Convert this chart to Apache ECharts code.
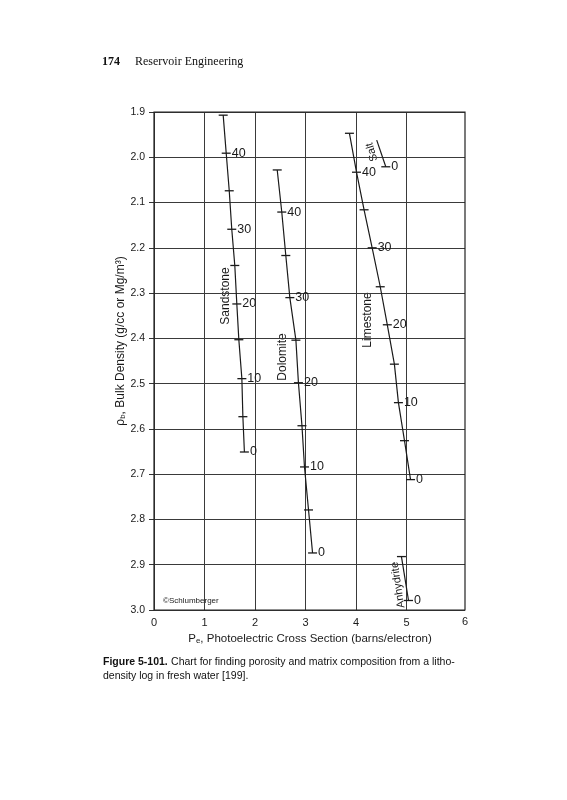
<!DOCTYPE html>
<html>
<head>
<meta charset="utf-8">
<script src="https://cdn.jsdelivr.net/npm/echarts@6/dist/echarts.min.js"></script>
<style>
html,body{margin:0;padding:0;background:#fff;}
#c{width:567px;height:800px;}
</style>
</head>
<body>
<div id="c"></div>
<script>
// ---- Data ----
var xTicks = [0, 1, 2, 3, 4, 5, 6];
var yTicks = [1.9, 2.0, 2.1, 2.2, 2.3, 2.4, 2.5, 2.6, 2.7, 2.8, 2.9, 3.0];

var sandstonePhi = [45, 40, 35, 30, 25, 20, 15, 10, 5, 0];
var sandstonePe  = [1.37, 1.43, 1.49, 1.54, 1.60, 1.64, 1.68, 1.74, 1.76, 1.79];
var sandstoneRho = [1.907, 1.991, 2.074, 2.159, 2.239, 2.324, 2.403, 2.489, 2.573, 2.651];

var dolomitePhi = [45, 40, 35, 30, 25, 20, 15, 10, 5, 0];
var dolomitePe  = [2.44, 2.53, 2.61, 2.69, 2.81, 2.86, 2.93, 2.98, 3.06, 3.14];
var dolomiteRho = [2.028, 2.121, 2.217, 2.310, 2.404, 2.498, 2.593, 2.684, 2.779, 2.874];

var limestonePhi = [45, 40, 35, 30, 25, 20, 15, 10, 5, 0];
var limestonePe  = [3.87, 4.01, 4.16, 4.32, 4.48, 4.62, 4.76, 4.84, 4.96, 5.08];
var limestoneRho = [1.947, 2.033, 2.116, 2.200, 2.286, 2.370, 2.457, 2.542, 2.626, 2.712];

var saltPhi = [null, 0];
var saltPe  = [4.41, 4.59];
var saltRho = [1.962, 2.021];

var anhydritePhi = [5, 0];
var anhydritePe  = [4.90, 5.04];
var anhydriteRho = [2.882, 2.979];

// ---- Build ----
var FONT = "'Liberation Sans', Arial, sans-serif";
var INK = '#1a1a1a';
var GRIDC = '#3a3a3a';

function mkData(phi, pe, rho) {
  return phi.map(function (p, i) {
    return {
      value: [pe[i], rho[i]],
      symbol: p === null ? 'none' : 'rect',
      label: {
        show: p !== null && p % 10 === 0,
        formatter: String(p)
      }
    };
  });
}
function mkSeries(name, phi, pe, rho) {
  return {
    name: name,
    type: 'line',
    xAxisIndex: 0, yAxisIndex: 0,
    data: mkData(phi, pe, rho),
    symbol: 'rect',
    symbolSize: [9, 1.3],
    showAllSymbol: true,
    lineStyle: { color: INK, width: 1.2 },
    itemStyle: { color: INK },
    label: {
      position: 'right', distance: 1,
      color: INK, fontSize: 12.5, fontFamily: FONT
    },
    emphasis: { disabled: true },
    silent: true,
    animation: false,
    z: 5
  };
}

var chart = echarts.init(document.getElementById('c'), null, { renderer: 'canvas' });
var option = {
  backgroundColor: '#fff',
  animation: false,
  grid: [
    { left: 154, right: 110, top: 112, bottom: 190, show: false },
    { left: 154, right: 102, top: 112, bottom: 190, show: false }
  ],
  xAxis: [{
    gridIndex: 0,
    type: 'value', min: xTicks[0], max: xTicks[xTicks.length - 1], interval: 1,
    axisLine: { show: false },
    axisTick: { show: false },
    splitLine: { show: true, showMinLine: true, showMaxLine: false, lineStyle: { color: GRIDC, width: 1 } },
    axisLabel: {
      color: INK, fontSize: 11, fontFamily: FONT, margin: 7,
      formatter: function (v) { return v === 6 ? '' : String(v); }
    }
  }, {
    gridIndex: 1, type: 'value', min: 0, max: 1, show: false
  }],
  yAxis: [{
    gridIndex: 0,
    type: 'value', inverse: true, min: yTicks[0], max: yTicks[yTicks.length - 1], interval: 0.1,
    axisLine: { show: false },
    axisTick: { show: true, length: 5, lineStyle: { color: '#333' } },
    splitLine: { show: false },
    axisLabel: {
      color: INK, fontSize: 10.5, fontFamily: FONT, margin: 9,
      formatter: function (v) { return v.toFixed(1); }
    }
  }, {
    gridIndex: 1,
    type: 'value', inverse: true, min: yTicks[0], max: yTicks[yTicks.length - 1], interval: 0.1,
    axisLine: { show: false }, axisTick: { show: false }, axisLabel: { show: false },
    splitLine: { show: true, lineStyle: { color: GRIDC, width: 1 } }
  }],
  series: [
    mkSeries('Sandstone', sandstonePhi, sandstonePe, sandstoneRho),
    mkSeries('Dolomite', dolomitePhi, dolomitePe, dolomiteRho),
    mkSeries('Limestone', limestonePhi, limestonePe, limestoneRho),
    mkSeries('Salt', saltPhi, saltPe, saltRho),
    mkSeries('Anhydrite', anhydritePhi, anhydritePe, anhydriteRho)
  ],
  graphic: [
    // frame
    { type: 'rect', shape: { x: 154, y: 112, width: 311, height: 498 },
      style: { fill: null, stroke: '#222', lineWidth: 1.2 }, z: 10, silent: true },
    { type: 'text', x: 465, y: 616, style: { text: '6', fill: INK, font: '11px ' + FONT, textAlign: 'center', textVerticalAlign: 'top' } },
    // header
    { type: 'text', x: 102, y: 56, style: { text: '174', fill: '#111', font: 'bold 12px "Liberation Serif", "Times New Roman", serif' } },
    { type: 'text', x: 135, y: 56, style: { text: 'Reservoir Engineering', fill: '#111', font: '12px "Liberation Serif", "Times New Roman", serif' } },
    // lithology names
    { type: 'text', x: 226, y: 296, rotation: Math.PI / 2,
      style: { text: 'Sandstone', fill: INK, font: '12px ' + FONT, textAlign: 'center', textVerticalAlign: 'middle' } },
    { type: 'text', x: 283, y: 357, rotation: Math.PI / 2,
      style: { text: 'Dolomite', fill: INK, font: '12px ' + FONT, textAlign: 'center', textVerticalAlign: 'middle' } },
    { type: 'text', x: 368, y: 320, rotation: Math.PI / 2,
      style: { text: 'Limestone', fill: INK, font: '12px ' + FONT, textAlign: 'center', textVerticalAlign: 'middle' } },
    { type: 'text', x: 372, y: 152, rotation: 106.5 * Math.PI / 180,
      style: { text: 'Salt', fill: INK, font: '11px ' + FONT, textAlign: 'center', textVerticalAlign: 'middle' } },
    { type: 'text', x: 398, y: 585, rotation: 98.5 * Math.PI / 180,
      style: { text: 'Anhydrite', fill: INK, font: '11px ' + FONT, textAlign: 'center', textVerticalAlign: 'middle' } },
    // copyright
    { type: 'text', x: 163, y: 601, style: { text: '©Schlumberger', fill: INK, font: '8px ' + FONT, textVerticalAlign: 'middle' } },
    // y axis name
    { type: 'text', x: 120, y: 341, rotation: Math.PI / 2,
      style: {
        text: '{a|ρ}{s|b}{a|, Bulk Density (g/cc or Mg/m³)}',
        textAlign: 'center', textVerticalAlign: 'middle',
        rich: {
          a: { fontSize: 12, fontFamily: FONT, fill: INK, verticalAlign: 'bottom', lineHeight: 14 },
          s: { fontSize: 8, fontFamily: FONT, fill: INK, verticalAlign: 'bottom', lineHeight: 11 }
        }
      } },
    // x axis name
    { type: 'text', x: 310, y: 638,
      style: {
        text: '{a|P}{s|e}{a|, Photoelectric Cross Section (barns/electron)}',
        textAlign: 'center', textVerticalAlign: 'middle',
        rich: {
          a: { fontSize: 11.5, fontFamily: FONT, fill: INK, verticalAlign: 'bottom', lineHeight: 14 },
          s: { fontSize: 8, fontFamily: FONT, fill: INK, verticalAlign: 'bottom', lineHeight: 11 }
        }
      } },
    // caption
    { type: 'text', x: 103, y: 662,
      style: {
        text: '{b|Figure 5-101.} {n|Chart for finding porosity and matrix composition from a litho-}',
        textVerticalAlign: 'middle',
        rich: {
          b: { fontSize: 10.5, fontFamily: FONT, fontWeight: 'bold', fill: '#111' },
          n: { fontSize: 10.5, fontFamily: FONT, fill: '#111' }
        }
      } },
    { type: 'text', x: 103, y: 676,
      style: { text: 'density log in fresh water [199].', fill: '#111', font: '10.5px ' + FONT, textVerticalAlign: 'middle' } }
  ]
};
chart.setOption(option);
</script>
</body>
</html>
